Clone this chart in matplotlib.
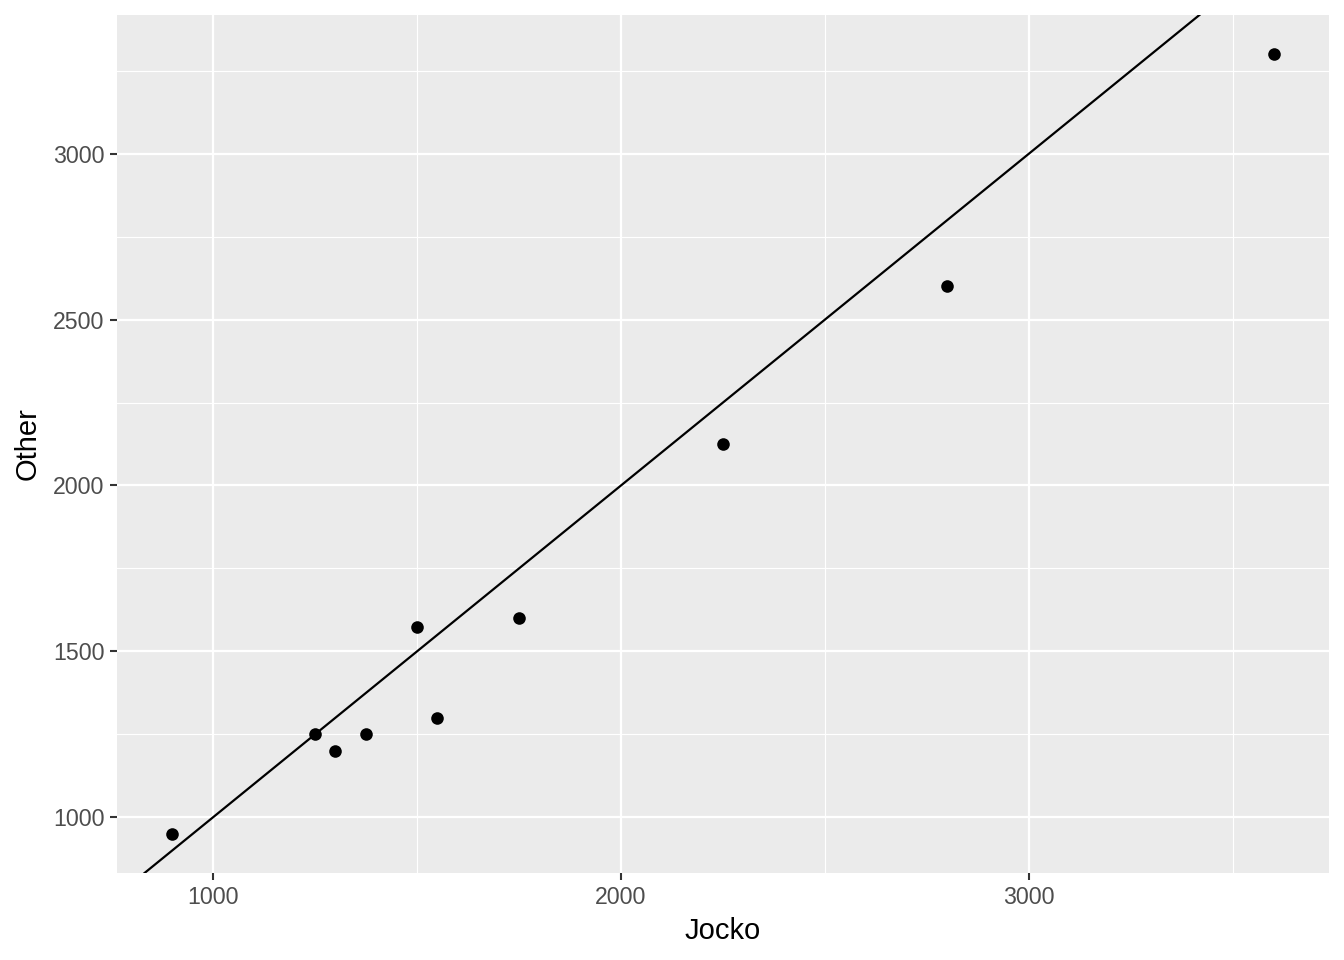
import matplotlib
matplotlib.use("Agg")
import matplotlib.pyplot as plt
import numpy as np

plt.rcParams['font.family'] = ['Liberation Sans', 'DejaVu Sans']

# data
jocko = [900, 1250, 1300, 1375, 1500, 1550, 1750, 2250, 2800, 3600]
other = [950, 1250, 1200, 1250, 1575, 1300, 1600, 2125, 2600, 3300]
xticks = [1000, 2000, 3000]
yticks = [1000, 1500, 2000, 2500, 3000]

fig = plt.figure(figsize=(13.44, 9.6), dpi=100)
ax = fig.add_axes([117/1344, 1 - 873/960, (1329-117)/1344, (873-15)/960])
ax.set_facecolor('#EBEBEB')
for s in ax.spines.values():
    s.set_visible(False)

# ggplot-like 5% expansion
xr = max(jocko) - min(jocko)
yr = max(other) - min(other)
xlo, xhi = min(jocko) - 0.05*xr, max(jocko) + 0.05*xr
ylo, yhi = min(other) - 0.05*yr, max(other) + 0.05*yr

ax.set_xticks(xticks)
ax.set_yticks(yticks)
ax.set_xticks([1500, 2500, 3500], minor=True)
ax.set_yticks([1250, 1750, 2250, 2750, 3250], minor=True)
ax.grid(which='major', color='white', linewidth=1.6)
ax.grid(which='minor', color='white', linewidth=0.8)
ax.set_axisbelow(True)
ax.tick_params(which='major', length=5, width=1.5, color='#333333',
               labelsize=16.7, labelcolor='#4D4D4D', pad=4)
ax.tick_params(which='minor', length=0)

# y = x reference line
ax.axline((1000, 1000), slope=1, color='black', linewidth=1.6, zorder=2)
ax.scatter(jocko, other, s=82, color='black', zorder=3, linewidths=0)

ax.set_xlim(xlo, xhi)
ax.set_ylim(ylo, yhi)
ax.set_xlabel('Jocko', fontsize=21, labelpad=6)
ax.set_ylabel('Other', fontsize=21, labelpad=8)

fig.savefig('out.png', dpi=100)
